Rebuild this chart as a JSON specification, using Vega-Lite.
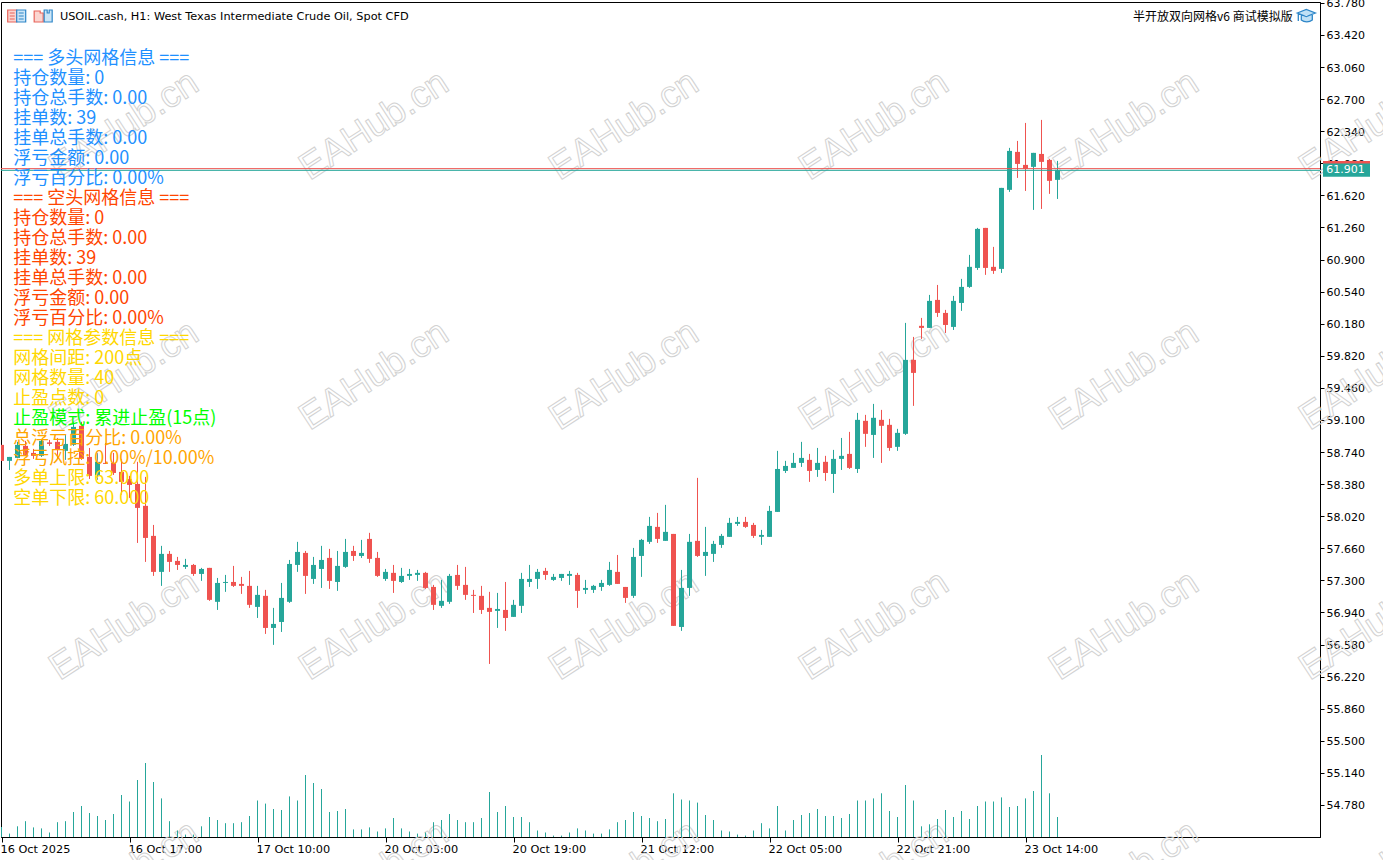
{
  "$schema": "https://vega.github.io/schema/vega-lite/v6.json",
  "width": 1319,
  "height": 835,
  "autosize": "none",
  "padding": {"left": 1, "top": 2, "right": 63, "bottom": 23},
  "background": "#ffffff",
  "config": {
    "view": {"stroke": "#000000", "strokeWidth": 1},
    "axis": {"grid": false, "title": null},
    "text": {"font": "DejaVu Sans"}
  },
  "datasets": {
    "bars": [
      {"bar":0,"open":58.82,"high":58.82,"low":58.641,"close":58.641,"volume":100},
      {"bar":1,"open":58.641,"high":58.685,"low":58.539,"close":58.685,"volume":34},
      {"bar":2,"open":58.674,"high":58.854,"low":58.674,"close":58.82,"volume":107},
      {"bar":3,"open":58.809,"high":58.865,"low":58.697,"close":58.708,"volume":158},
      {"bar":4,"open":58.73,"high":58.775,"low":58.663,"close":58.697,"volume":96},
      {"bar":5,"open":58.697,"high":58.876,"low":58.685,"close":58.865,"volume":86},
      {"bar":6,"open":58.848,"high":58.876,"low":58.809,"close":58.831,"volume":45},
      {"bar":7,"open":58.854,"high":58.898,"low":58.663,"close":58.764,"volume":148},
      {"bar":8,"open":58.753,"high":58.932,"low":58.652,"close":58.831,"volume":158},
      {"bar":9,"open":58.82,"high":59.079,"low":58.809,"close":59.022,"volume":250},
      {"bar":10,"open":59.034,"high":59.079,"low":58.652,"close":58.663,"volume":310},
      {"bar":11,"open":58.685,"high":58.786,"low":58.438,"close":58.472,"volume":240},
      {"bar":12,"open":58.483,"high":58.73,"low":58.427,"close":58.63,"volume":210},
      {"bar":13,"open":58.618,"high":58.842,"low":58.607,"close":58.607,"volume":170},
      {"bar":14,"open":58.618,"high":58.73,"low":58.483,"close":58.505,"volume":230},
      {"bar":15,"open":58.517,"high":58.663,"low":58.259,"close":58.405,"volume":420},
      {"bar":16,"open":58.438,"high":58.472,"low":58.225,"close":58.371,"volume":355},
      {"bar":17,"open":58.382,"high":58.63,"low":57.72,"close":58.113,"volume":570},
      {"bar":18,"open":58.136,"high":58.461,"low":57.507,"close":57.776,"volume":740},
      {"bar":19,"open":57.799,"high":57.922,"low":57.35,"close":57.395,"volume":550},
      {"bar":20,"open":57.395,"high":57.687,"low":57.238,"close":57.597,"volume":386},
      {"bar":21,"open":57.597,"high":57.63,"low":57.395,"close":57.507,"volume":158},
      {"bar":22,"open":57.518,"high":57.563,"low":57.417,"close":57.473,"volume":65},
      {"bar":23,"open":57.451,"high":57.541,"low":57.428,"close":57.473,"volume":24},
      {"bar":24,"open":57.473,"high":57.484,"low":57.35,"close":57.372,"volume":24},
      {"bar":25,"open":57.372,"high":57.44,"low":57.294,"close":57.428,"volume":107},
      {"bar":26,"open":57.44,"high":57.44,"low":57.07,"close":57.081,"volume":200},
      {"bar":27,"open":57.059,"high":57.327,"low":56.968,"close":57.271,"volume":170},
      {"bar":28,"open":57.271,"high":57.361,"low":57.171,"close":57.282,"volume":138},
      {"bar":29,"open":57.282,"high":57.462,"low":57.226,"close":57.238,"volume":138},
      {"bar":30,"open":57.26,"high":57.339,"low":57.148,"close":57.238,"volume":148},
      {"bar":31,"open":57.238,"high":57.406,"low":56.991,"close":57.025,"volume":210},
      {"bar":32,"open":57.002,"high":57.238,"low":56.878,"close":57.137,"volume":365},
      {"bar":33,"open":57.126,"high":57.193,"low":56.699,"close":56.766,"volume":334},
      {"bar":34,"open":56.766,"high":56.991,"low":56.576,"close":56.811,"volume":280},
      {"bar":35,"open":56.833,"high":57.271,"low":56.721,"close":57.103,"volume":270},
      {"bar":36,"open":57.059,"high":57.529,"low":57.047,"close":57.484,"volume":406},
      {"bar":37,"open":57.473,"high":57.732,"low":57.395,"close":57.619,"volume":365},
      {"bar":38,"open":57.608,"high":57.63,"low":57.148,"close":57.35,"volume":620},
      {"bar":39,"open":57.316,"high":57.563,"low":57.26,"close":57.473,"volume":540},
      {"bar":40,"open":57.428,"high":57.687,"low":57.215,"close":57.529,"volume":480},
      {"bar":41,"open":57.552,"high":57.653,"low":57.204,"close":57.294,"volume":250},
      {"bar":42,"open":57.282,"high":57.63,"low":57.182,"close":57.462,"volume":260},
      {"bar":43,"open":57.451,"high":57.765,"low":57.44,"close":57.619,"volume":280},
      {"bar":44,"open":57.63,"high":57.687,"low":57.518,"close":57.574,"volume":76},
      {"bar":45,"open":57.574,"high":57.754,"low":57.552,"close":57.608,"volume":76},
      {"bar":46,"open":57.765,"high":57.833,"low":57.496,"close":57.541,"volume":96},
      {"bar":47,"open":57.552,"high":57.619,"low":57.339,"close":57.35,"volume":55},
      {"bar":48,"open":57.316,"high":57.428,"low":57.294,"close":57.395,"volume":86},
      {"bar":49,"open":57.384,"high":57.473,"low":57.159,"close":57.294,"volume":190},
      {"bar":50,"open":57.282,"high":57.44,"low":57.271,"close":57.35,"volume":86},
      {"bar":51,"open":57.35,"high":57.428,"low":57.305,"close":57.372,"volume":55},
      {"bar":52,"open":57.361,"high":57.417,"low":57.294,"close":57.384,"volume":34},
      {"bar":53,"open":57.384,"high":57.395,"low":57.204,"close":57.215,"volume":45},
      {"bar":54,"open":57.226,"high":57.249,"low":56.968,"close":57.025,"volume":148},
      {"bar":55,"open":57.014,"high":57.305,"low":56.991,"close":57.07,"volume":170},
      {"bar":56,"open":57.059,"high":57.372,"low":57.036,"close":57.35,"volume":230},
      {"bar":57,"open":57.361,"high":57.473,"low":57.193,"close":57.238,"volume":170},
      {"bar":58,"open":57.249,"high":57.451,"low":57.081,"close":57.137,"volume":148},
      {"bar":59,"open":57.137,"high":57.193,"low":56.934,"close":57.126,"volume":148},
      {"bar":60,"open":57.126,"high":57.238,"low":56.923,"close":56.968,"volume":190},
      {"bar":61,"open":56.991,"high":57.171,"low":56.362,"close":56.946,"volume":450},
      {"bar":62,"open":56.957,"high":57.159,"low":56.766,"close":56.979,"volume":250},
      {"bar":63,"open":56.968,"high":57.282,"low":56.733,"close":56.878,"volume":310},
      {"bar":64,"open":56.89,"high":57.081,"low":56.89,"close":57.025,"volume":200},
      {"bar":65,"open":57.014,"high":57.384,"low":56.934,"close":57.316,"volume":200},
      {"bar":66,"open":57.282,"high":57.473,"low":57.226,"close":57.316,"volume":148},
      {"bar":67,"open":57.316,"high":57.428,"low":57.204,"close":57.395,"volume":65},
      {"bar":68,"open":57.406,"high":57.44,"low":57.305,"close":57.361,"volume":45},
      {"bar":69,"open":57.305,"high":57.372,"low":57.294,"close":57.339,"volume":14},
      {"bar":70,"open":57.327,"high":57.372,"low":57.294,"close":57.372,"volume":14},
      {"bar":71,"open":57.35,"high":57.406,"low":57.249,"close":57.372,"volume":45},
      {"bar":72,"open":57.361,"high":57.384,"low":56.991,"close":57.182,"volume":86},
      {"bar":73,"open":57.193,"high":57.305,"low":57.148,"close":57.215,"volume":65},
      {"bar":74,"open":57.193,"high":57.249,"low":57.159,"close":57.238,"volume":34},
      {"bar":75,"open":57.226,"high":57.305,"low":57.182,"close":57.271,"volume":34},
      {"bar":76,"open":57.249,"high":57.507,"low":57.238,"close":57.417,"volume":76},
      {"bar":77,"open":57.395,"high":57.585,"low":57.26,"close":57.26,"volume":148},
      {"bar":78,"open":57.226,"high":57.226,"low":57.047,"close":57.103,"volume":170},
      {"bar":79,"open":57.126,"high":57.664,"low":57.103,"close":57.563,"volume":250},
      {"bar":80,"open":57.574,"high":57.765,"low":57.339,"close":57.754,"volume":210},
      {"bar":81,"open":57.732,"high":58.012,"low":57.709,"close":57.911,"volume":190},
      {"bar":82,"open":57.9,"high":58.057,"low":57.72,"close":57.765,"volume":158},
      {"bar":83,"open":57.743,"high":58.147,"low":57.743,"close":57.844,"volume":180},
      {"bar":84,"open":57.821,"high":57.821,"low":56.789,"close":56.789,"volume":437},
      {"bar":85,"open":56.777,"high":57.417,"low":56.733,"close":57.215,"volume":375},
      {"bar":86,"open":57.215,"high":57.821,"low":57.126,"close":57.732,"volume":365},
      {"bar":87,"open":57.743,"high":58.45,"low":57.563,"close":57.574,"volume":344},
      {"bar":88,"open":57.574,"high":57.9,"low":57.35,"close":57.619,"volume":220},
      {"bar":89,"open":57.597,"high":57.743,"low":57.507,"close":57.709,"volume":170},
      {"bar":90,"open":57.698,"high":57.821,"low":57.664,"close":57.799,"volume":65},
      {"bar":91,"open":57.788,"high":58.001,"low":57.788,"close":57.945,"volume":55},
      {"bar":92,"open":57.933,"high":58.012,"low":57.911,"close":57.956,"volume":24},
      {"bar":93,"open":57.956,"high":58.012,"low":57.889,"close":57.9,"volume":14},
      {"bar":94,"open":57.922,"high":57.945,"low":57.776,"close":57.799,"volume":65},
      {"bar":95,"open":57.788,"high":57.866,"low":57.698,"close":57.81,"volume":138},
      {"bar":96,"open":57.788,"high":58.136,"low":57.788,"close":58.079,"volume":86},
      {"bar":97,"open":58.068,"high":58.753,"low":58.068,"close":58.55,"volume":310},
      {"bar":98,"open":58.528,"high":58.641,"low":58.505,"close":58.584,"volume":65},
      {"bar":99,"open":58.562,"high":58.73,"low":58.562,"close":58.618,"volume":170},
      {"bar":100,"open":58.618,"high":58.854,"low":58.573,"close":58.674,"volume":220},
      {"bar":101,"open":58.652,"high":58.719,"low":58.405,"close":58.528,"volume":240},
      {"bar":102,"open":58.539,"high":58.786,"low":58.461,"close":58.618,"volume":280},
      {"bar":103,"open":58.63,"high":58.697,"low":58.416,"close":58.505,"volume":210},
      {"bar":104,"open":58.494,"high":58.764,"low":58.281,"close":58.663,"volume":210},
      {"bar":105,"open":58.663,"high":58.898,"low":58.539,"close":58.697,"volume":190},
      {"bar":106,"open":58.719,"high":58.966,"low":58.55,"close":58.562,"volume":230},
      {"bar":107,"open":58.55,"high":59.179,"low":58.505,"close":59.101,"volume":365},
      {"bar":108,"open":59.09,"high":59.157,"low":58.798,"close":58.944,"volume":365},
      {"bar":109,"open":58.932,"high":59.28,"low":58.674,"close":59.124,"volume":386},
      {"bar":110,"open":59.101,"high":59.213,"low":58.618,"close":59.034,"volume":437},
      {"bar":111,"open":59.045,"high":59.112,"low":58.753,"close":58.786,"volume":260},
      {"bar":112,"open":58.798,"high":59.0,"low":58.753,"close":58.955,"volume":200},
      {"bar":113,"open":58.944,"high":60.189,"low":58.932,"close":59.774,"volume":520},
      {"bar":114,"open":59.774,"high":60.032,"low":59.258,"close":59.628,"volume":365},
      {"bar":115,"open":60.156,"high":60.245,"low":60.009,"close":60.133,"volume":107},
      {"bar":116,"open":60.133,"high":60.503,"low":60.133,"close":60.436,"volume":127},
      {"bar":117,"open":60.447,"high":60.615,"low":60.256,"close":60.301,"volume":180},
      {"bar":118,"open":60.301,"high":60.335,"low":60.076,"close":60.166,"volume":270},
      {"bar":119,"open":60.144,"high":60.492,"low":60.11,"close":60.436,"volume":200},
      {"bar":120,"open":60.413,"high":60.683,"low":60.324,"close":60.593,"volume":260},
      {"bar":121,"open":60.593,"high":60.952,"low":60.582,"close":60.818,"volume":180},
      {"bar":122,"open":60.806,"high":61.255,"low":60.784,"close":61.244,"volume":310},
      {"bar":123,"open":61.255,"high":61.255,"low":60.728,"close":60.806,"volume":355},
      {"bar":124,"open":60.818,"high":61.042,"low":60.739,"close":60.773,"volume":355},
      {"bar":125,"open":60.795,"high":61.704,"low":60.75,"close":61.704,"volume":396},
      {"bar":126,"open":61.682,"high":62.153,"low":61.659,"close":62.119,"volume":300},
      {"bar":127,"open":62.108,"high":62.231,"low":61.816,"close":61.973,"volume":310},
      {"bar":128,"open":61.962,"high":62.433,"low":61.67,"close":61.917,"volume":386},
      {"bar":129,"open":61.94,"high":62.097,"low":61.457,"close":62.097,"volume":460},
      {"bar":130,"open":62.085,"high":62.467,"low":61.468,"close":61.996,"volume":820},
      {"bar":131,"open":62.018,"high":62.029,"low":61.637,"close":61.783,"volume":437},
      {"bar":132,"open":61.794,"high":62.007,"low":61.58,"close":61.901,"volume":200}
    ],
    "info": [
      {"line":0,"group":"long","text":"=== 多头网格信息 ==="},
      {"line":1,"group":"long","text":"持仓数量: 0"},
      {"line":2,"group":"long","text":"持仓总手数: 0.00"},
      {"line":3,"group":"long","text":"挂单数: 39"},
      {"line":4,"group":"long","text":"挂单总手数: 0.00"},
      {"line":5,"group":"long","text":"浮亏金额: 0.00"},
      {"line":6,"group":"long","text":"浮亏百分比: 0.00%"},
      {"line":7,"group":"short","text":"=== 空头网格信息 ==="},
      {"line":8,"group":"short","text":"持仓数量: 0"},
      {"line":9,"group":"short","text":"持仓总手数: 0.00"},
      {"line":10,"group":"short","text":"挂单数: 39"},
      {"line":11,"group":"short","text":"挂单总手数: 0.00"},
      {"line":12,"group":"short","text":"浮亏金额: 0.00"},
      {"line":13,"group":"short","text":"浮亏百分比: 0.00%"},
      {"line":14,"group":"param","text":"=== 网格参数信息 ==="},
      {"line":15,"group":"param","text":"网格间距: 200点"},
      {"line":16,"group":"param","text":"网格数量: 40"},
      {"line":17,"group":"param","text":"止盈点数: 0"},
      {"line":18,"group":"mode","text":"止盈模式: 累进止盈(15点)"},
      {"line":19,"group":"risk","text":"总浮亏百分比: 0.00%"},
      {"line":20,"group":"risk","text":"浮亏风控: 0.00%/10.00%"},
      {"line":21,"group":"param","text":"多单上限: 63.000"},
      {"line":22,"group":"param","text":"空单下限: 60.000"}
    ],
    "watermark": [
      {"bar":7.25,"line":6.2},{"bar":38.5,"line":6.2},{"bar":69.75,"line":6.2},{"bar":101,"line":6.2},{"bar":132.25,"line":6.2},{"bar":163.5,"line":6.2},
      {"bar":7.25,"line":18.7},{"bar":38.5,"line":18.7},{"bar":69.75,"line":18.7},{"bar":101,"line":18.7},{"bar":132.25,"line":18.7},{"bar":163.5,"line":18.7},
      {"bar":7.25,"line":31.2},{"bar":38.5,"line":31.2},{"bar":69.75,"line":31.2},{"bar":101,"line":31.2},{"bar":132.25,"line":31.2},{"bar":163.5,"line":31.2},
      {"bar":7.25,"line":43.7},{"bar":38.5,"line":43.7},{"bar":69.75,"line":43.7},{"bar":101,"line":43.7},{"bar":132.25,"line":43.7},{"bar":163.5,"line":43.7}
    ]
  },
  "resolve": {"scale": {"y": "independent", "color": "independent"}, "axis": {"x": "independent", "y": "independent"}},
  "layer": [
    {
      "data": {"name": "watermark"},
      "mark": {"type": "text", "text": "EAHub.cn", "font": "Liberation Sans", "fontSize": 37.5, "angle": -33, "align": "left", "baseline": "alphabetic", "fill": "transparent", "stroke": "#d2d2d2", "strokeWidth": 1},
      "encoding": {
        "x": {"field": "bar", "type": "quantitative", "scale": {"domain": [-0.0625, 164.8125], "nice": false, "zero": false, "padding": 0}, "axis": null},
        "y": {"field": "line", "type": "quantitative", "scale": {"domain": [-2.75, 39], "reverse": true, "nice": false, "zero": false}, "axis": null}
      }
    },
    {
      "data": {"name": "bars"},
      "mark": {"type": "rule", "strokeWidth": 1, "color": "#26A69A", "clip": true},
      "encoding": {
        "x": {"field": "bar", "type": "quantitative", "scale": {"domain": [-0.0625, 164.8125], "nice": false, "zero": false, "padding": 0}, "axis": null},
        "y": {"field": "volume", "type": "quantitative", "scale": {"domain": [0, 8350], "nice": false}, "axis": null},
        "y2": {"datum": 0}
      }
    },
    {
      "data": {"name": "bars"},
      "mark": {"type": "rule", "strokeWidth": 1, "clip": true},
      "encoding": {
        "x": {
          "field": "bar",
          "type": "quantitative",
          "scale": {"domain": [-0.0625, 164.8125], "nice": false, "zero": false, "padding": 0},
          "axis": {
            "values": [0, 16, 32, 48, 64, 80, 96, 112, 128],
            "labelExpr": "['16 Oct 2025','16 Oct 17:00','17 Oct 10:00','20 Oct 03:00','20 Oct 19:00','21 Oct 12:00','22 Oct 05:00','22 Oct 21:00','23 Oct 14:00'][datum.value / 16]",
            "labelAlign": "left",
            "labelFont": "DejaVu Sans",
            "labelFontSize": 11.3,
            "labelColor": "#000000",
            "labelPadding": 1,
            "labelOffset": -1.5,
            "labelOverlap": false,
            "labelFlush": false,
            "labelBound": false,
            "tickColor": "#000000",
            "tickSize": 5,
            "domainColor": "#000000"
          }
        },
        "y": {
          "field": "low",
          "type": "quantitative",
          "scale": {"domain": [54.42, 63.79], "nice": false, "zero": false},
          "axis": {
            "orient": "right",
            "values": [54.78, 55.14, 55.5, 55.86, 56.22, 56.58, 56.94, 57.3, 57.66, 58.02, 58.38, 58.74, 59.1, 59.46, 59.82, 60.18, 60.54, 60.9, 61.26, 61.62, 61.98, 62.34, 62.7, 63.06, 63.42, 63.78],
            "format": ".3f",
            "labelFont": "DejaVu Sans",
            "labelFontSize": 11,
            "labelColor": "#000000",
            "labelPadding": 2,
            "labelOffset": 1,
            "labelOverlap": false,
            "labelFlush": false,
            "labelBound": false,
            "tickColor": "#000000",
            "tickSize": 4,
            "domainColor": "#000000"
          }
        },
        "y2": {"field": "high"},
        "color": {"condition": {"test": "datum.close < datum.open", "value": "#EF5350"}, "value": "#26A69A"}
      }
    },
    {
      "data": {"name": "bars"},
      "mark": {"type": "bar", "size": 5, "clip": true},
      "encoding": {
        "x": {"field": "bar", "type": "quantitative", "scale": {"domain": [-0.0625, 164.8125], "nice": false, "zero": false, "padding": 0}, "axis": null},
        "y": {"field": "open", "type": "quantitative", "scale": {"domain": [54.42, 63.79], "nice": false, "zero": false}, "axis": null},
        "y2": {"field": "close"},
        "color": {"condition": {"test": "datum.close < datum.open", "value": "#EF5350"}, "value": "#26A69A"}
      }
    },
    {
      "data": {"values": [{"price": 61.92, "side": "ask"}, {"price": 61.901, "side": "bid"}]},
      "mark": {"type": "rule", "strokeWidth": 1},
      "encoding": {
        "x": {"datum": -0.0625, "type": "quantitative", "scale": {"domain": [-0.0625, 164.8125], "nice": false, "zero": false, "padding": 0}, "axis": null},
        "x2": {"datum": 164.8125},
        "y": {"field": "price", "type": "quantitative", "scale": {"domain": [54.42, 63.79], "nice": false, "zero": false}, "axis": null},
        "color": {"field": "side", "type": "nominal", "scale": {"domain": ["ask", "bid"], "range": ["#EF5350", "#26A69A"]}, "legend": null}
      }
    },
    {
      "data": {"values": [{"top": 62.007, "bottom": 61.85}]},
      "mark": {"type": "rect", "color": "#EF5350"},
      "encoding": {
        "x": {"datum": 165.1875, "type": "quantitative", "scale": {"domain": [-0.0625, 164.8125], "nice": false, "zero": false, "padding": 0}, "axis": null},
        "x2": {"datum": 171.0625},
        "y": {"field": "top", "type": "quantitative", "scale": {"domain": [54.42, 63.79], "nice": false, "zero": false}, "axis": null},
        "y2": {"field": "bottom"}
      }
    },
    {
      "data": {"values": [{"top": 61.979, "bottom": 61.83}]},
      "mark": {"type": "rect", "color": "#26A69A"},
      "encoding": {
        "x": {"datum": 165.1875, "type": "quantitative", "scale": {"domain": [-0.0625, 164.8125], "nice": false, "zero": false, "padding": 0}, "axis": null},
        "x2": {"datum": 171.0625},
        "y": {"field": "top", "type": "quantitative", "scale": {"domain": [54.42, 63.79], "nice": false, "zero": false}, "axis": null},
        "y2": {"field": "bottom"}
      }
    },
    {
      "data": {"values": [{"price": 61.901, "label": "61.901"}]},
      "mark": {"type": "text", "color": "#ffffff", "align": "left", "baseline": "middle", "font": "DejaVu Sans", "fontSize": 11},
      "encoding": {
        "x": {"datum": 165.6, "type": "quantitative", "scale": {"domain": [-0.0625, 164.8125], "nice": false, "zero": false, "padding": 0}, "axis": null},
        "y": {"field": "price", "type": "quantitative", "scale": {"domain": [54.42, 63.79], "nice": false, "zero": false}, "axis": null},
        "text": {"field": "label"}
      }
    },
    {
      "data": {"name": "info"},
      "mark": {"type": "text", "align": "left", "baseline": "middle", "font": "Noto Sans CJK SC", "fontSize": 18, "dy": 1.5},
      "encoding": {
        "x": {"datum": 1.46, "type": "quantitative", "scale": {"domain": [-0.0625, 164.8125], "nice": false, "zero": false, "padding": 0}, "axis": null},
        "y": {"field": "line", "type": "quantitative", "scale": {"domain": [-2.75, 39], "reverse": true, "nice": false, "zero": false}, "axis": null},
        "text": {"field": "text"},
        "color": {"field": "group", "type": "nominal", "scale": {"domain": ["long", "short", "param", "mode", "risk"], "range": ["#1E90FF", "#FF4500", "#FFD700", "#00FF00", "#FFA500"]}, "legend": null}
      }
    },
    {
      "data": {"values": [{"line": -2, "text": "USOIL.cash, H1:  West Texas Intermediate Crude Oil, Spot CFD"}]},
      "mark": {"type": "text", "align": "left", "baseline": "middle", "font": "DejaVu Sans", "fontSize": 11.3, "color": "#000000"},
      "encoding": {
        "x": {"datum": 7.3, "type": "quantitative", "scale": {"domain": [-0.0625, 164.8125], "nice": false, "zero": false, "padding": 0}, "axis": null},
        "y": {"field": "line", "type": "quantitative", "scale": {"domain": [-2.75, 39], "reverse": true, "nice": false, "zero": false}, "axis": null},
        "text": {"field": "text"}
      }
    },
    {
      "data": {"values": [{"line": -2, "text": "半开放双向网格v6 商试模拟版"}]},
      "mark": {"type": "text", "align": "right", "baseline": "middle", "font": "Noto Sans CJK SC", "fontSize": 12, "color": "#000000"},
      "encoding": {
        "x": {"datum": 161.4, "type": "quantitative", "scale": {"domain": [-0.0625, 164.8125], "nice": false, "zero": false, "padding": 0}, "axis": null},
        "y": {"field": "line", "type": "quantitative", "scale": {"domain": [-2.75, 39], "reverse": true, "nice": false, "zero": false}, "axis": null},
        "text": {"field": "text"}
      }
    },
    {
      "data": {"values": [{"line": -2.05}]},
      "mark": {"type": "point", "shape": "M-9,-6H0V6H-9Z M-7,-3H-2 M-7,0H-2 M-7,3H-2", "size": 4, "opacity": 1, "fill": "#FBD5D0", "stroke": "#E8645A", "strokeWidth": 1.2},
      "encoding": {
        "x": {"datum": 1.9, "type": "quantitative", "scale": {"domain": [-0.0625, 164.8125], "nice": false, "zero": false, "padding": 0}, "axis": null},
        "y": {"field": "line", "type": "quantitative", "scale": {"domain": [-2.75, 39], "reverse": true, "nice": false, "zero": false}, "axis": null}
      }
    },
    {
      "data": {"values": [{"line": -2.05}]},
      "mark": {"type": "point", "shape": "M0,-6H9V6H0Z M2,-3H7 M2,0H7 M2,3H7", "size": 4, "opacity": 1, "fill": "#CDE6F7", "stroke": "#2E86C8", "strokeWidth": 1.2},
      "encoding": {
        "x": {"datum": 1.9, "type": "quantitative", "scale": {"domain": [-0.0625, 164.8125], "nice": false, "zero": false, "padding": 0}, "axis": null},
        "y": {"field": "line", "type": "quantitative", "scale": {"domain": [-2.75, 39], "reverse": true, "nice": false, "zero": false}, "axis": null}
      }
    },
    {
      "data": {"values": [{"line": -2.05}]},
      "mark": {"type": "point", "shape": "M-9,-5H-3V-3H0V6H-9Z", "size": 4, "opacity": 1, "fill": "#FBD5D0", "stroke": "#E8645A", "strokeWidth": 1.2},
      "encoding": {
        "x": {"datum": 5.21, "type": "quantitative", "scale": {"domain": [-0.0625, 164.8125], "nice": false, "zero": false, "padding": 0}, "axis": null},
        "y": {"field": "line", "type": "quantitative", "scale": {"domain": [-2.75, 39], "reverse": true, "nice": false, "zero": false}, "axis": null}
      }
    },
    {
      "data": {"values": [{"line": -2.05}]},
      "mark": {"type": "point", "shape": "M1,-6H4V-3H6V-6H9V6H1Z", "size": 4, "opacity": 1, "fill": "#CDE6F7", "stroke": "#2E86C8", "strokeWidth": 1.2},
      "encoding": {
        "x": {"datum": 5.21, "type": "quantitative", "scale": {"domain": [-0.0625, 164.8125], "nice": false, "zero": false, "padding": 0}, "axis": null},
        "y": {"field": "line", "type": "quantitative", "scale": {"domain": [-2.75, 39], "reverse": true, "nice": false, "zero": false}, "axis": null}
      }
    },
    {
      "data": {"values": [{"line": -2.05}]},
      "mark": {"type": "point", "shape": "M-9,-3L0,-6.5L9,-3L0,0.5Z M-5,-1V4C-2,6.5 3,6.5 6,4V-1 M-8,-3V5", "size": 4, "opacity": 1, "fill": "#BFE0F5", "stroke": "#2E86C8", "strokeWidth": 1.3},
      "encoding": {
        "x": {"datum": 163.1, "type": "quantitative", "scale": {"domain": [-0.0625, 164.8125], "nice": false, "zero": false, "padding": 0}, "axis": null},
        "y": {"field": "line", "type": "quantitative", "scale": {"domain": [-2.75, 39], "reverse": true, "nice": false, "zero": false}, "axis": null}
      }
    }
  ]
}
